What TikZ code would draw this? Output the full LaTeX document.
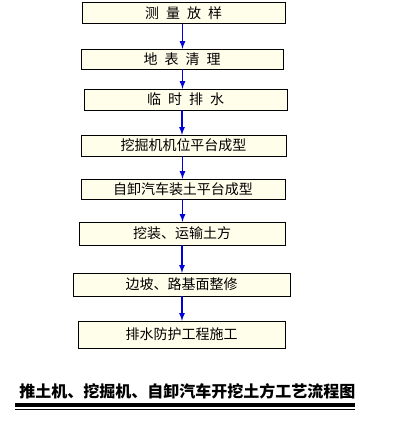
\documentclass[tikz,border=0pt]{standalone}
\usepackage{fontspec}
\setmainfont{Noto Sans CJK SC}
\newcommand{\gap}{\hspace{7pt}}
\begin{document}
\begin{tikzpicture}[x=1pt,y=-1pt,
    stepbox/.style={draw,thin,fill=yellow!8,inner sep=0pt,
        font=\fontsize{14}{16}\selectfont},
    flow/.style={draw=blue!85!black,line width=1.6pt,-latex}]
            \useasboundingbox (0,0) rectangle (400,421);

            \node[stepbox,minimum width=203pt,minimum height=21pt] (A) at (183.5, 13) {测\gap 量\gap 放\gap 样};
            \node[stepbox,minimum width=202pt,minimum height=20pt] (B) at (182, 59) {地\gap 表\gap 清\gap 理};
            \node[stepbox,minimum width=203pt,minimum height=21pt] (C) at (185.5, 99.5) {临\gap 时\gap 排\gap 水};
            \node[stepbox,minimum width=205pt,minimum height=21pt] (D) at (183.5, 145.5) {挖掘机机位平台成型};
            \node[stepbox,minimum width=204pt,minimum height=20pt] (E) at (183, 189) {自卸汽车装土平台成型};
            \node[stepbox,minimum width=206pt,minimum height=23pt] (F) at (182, 233.5) {挖装、运输土方};
            \node[stepbox,minimum width=217pt,minimum height=23pt] (G) at (181.5, 284.5) {边坡、路基面整修};
            \node[stepbox,minimum width=207pt,minimum height=27pt] (H) at (181.5, 334.5) {排水防护工程施工};

            \node[font=\fontsize{16}{18}\selectfont\bfseries] (T) at (187.5, 391) {推土机、挖掘机、自卸汽车开挖土方工艺流程图};

            \draw[flow] (A.south -| 182.5,0) to (B.north -| 182.5,0);
            \draw[flow] (B.south -| 182.5,0) to (C.north -| 182.5,0);
            \draw[flow] (C.south -| 182,0) to (D.north -| 182,0);
            \draw[flow] (D.south -| 182.5,0) to (E.north -| 182.5,0);
            \draw[flow] (E.south -| 182.5,0) to (F.north -| 182.5,0);
            \draw[flow] (F.south -| 182,0) to (G.north -| 182,0);
            \draw[flow] (G.south -| 182,0) to (H.north -| 182,0);

            \draw[line width=4pt] (15, 405) -- (355, 405);
            \draw[line width=1pt] (15, 409.5) -- (355, 409.5);
        \end{tikzpicture}
\end{document}
